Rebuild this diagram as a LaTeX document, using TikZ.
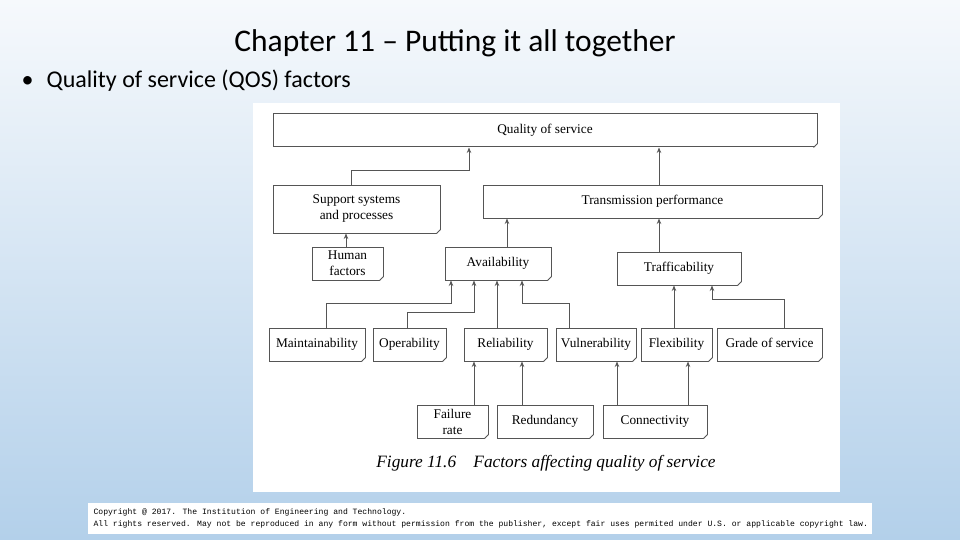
\documentclass[tikz,border=0pt]{standalone}
\usepackage{fontspec}
\setmainfont{Liberation Serif}
\newfontfamily\calib[Ligatures=TeX]{Carlito}
\newfontfamily\monof{Liberation Mono}
\usetikzlibrary{calc,arrows.meta}
\definecolor{bgtop}{HTML}{F6F9FC}
\definecolor{bgbot}{HTML}{B3D0EA}
\definecolor{edge}{HTML}{555555}
\tikzset{
  box/.style={draw=edge, line width=1pt, fill=white, inner sep=0pt, align=center,
    font=\fontsize{13.3}{16}\selectfont, minimum height=33pt},
  sl/.style={text height=9.5pt, text depth=3pt},
  conn/.style={draw=edge, line width=1pt, -{Stealth[length=5.5pt,width=4.5pt]}},
}
\newcommand{\dogear}[1]{%
  \fill[white] ($(#1.south east)+(-4,0.7)$) -- ($(#1.south east)+(0.7,0.7)$) -- ($(#1.south east)+(0.7,-4)$) -- cycle;
  \draw[edge, line width=0.9pt] ($(#1.south east)+(-4,0)$) -- ($(#1.south east)+(0,-4)$);}
\begin{document}
\begin{tikzpicture}[x=1pt,y=-1pt]
\useasboundingbox (0,0) rectangle (960,540);
\shade[top color=bgtop, bottom color=bgbot] (0,0) rectangle (960,540);
% title and bullet
\node[font=\calib\fontsize{31.5}{36}\selectfont] (title) at (455,43) {Chapter 11 – Putting it all together};
\node[font=\calib\fontsize{24}{28}\selectfont, anchor=west] (bullet) at (18,81) {\textbullet\hspace{0.55em}Quality of service (QOS) factors};
% figure panel
\fill[white] (253,103) rectangle (840,492);
% copyright
\fill[white] (88,503) rectangle (872,534);
\node[font=\monof\fontsize{8.1}{12}\selectfont, anchor=west, align=left] (copy) at (90,518)
  {Copyright @ 2017. The Institution of Engineering and Technology.\\All rights reserved. May not be reproduced in any form without permission from the publisher, except fair uses permited under U.S. or applicable copyright law.};
% boxes
\node[box, sl, minimum width=544pt] (qos) at (545,130.5) {Quality of service};
\node[box, minimum width=167pt, minimum height=48pt] (sup) at (356.5,209) {Support systems\\and processes};
\node[box, sl, minimum width=339pt] (tp) at (652.5,201.5) {Transmission performance};
\node[box, minimum width=71pt] (hum) at (347.5,263.5) {Human\\factors};
\node[box, sl, minimum width=106pt] (av) at (498,263.5) {Availability};
\node[box, sl, minimum width=124pt] (tr) at (679,268.5) {Trafficability};
\node[box, sl, minimum width=96pt] (mt) at (317,344.5) {Maintainability};
\node[box, sl, minimum width=73pt] (op) at (409.5,344.5) {Operability};
\node[box, sl, minimum width=83pt] (rel) at (505.5,344.5) {Reliability};
\node[box, sl, minimum width=80pt] (vul) at (596,344.5) {Vulnerability};
\node[box, sl, minimum width=71pt] (flex) at (676.5,344.5) {Flexibility};
\node[box, sl, minimum width=105pt] (gos) at (769.5,344.5) {Grade of service};
\node[box, minimum width=71pt] (fr) at (452.5,421.5) {Failure\\rate};
\node[box, sl, minimum width=96pt] (red) at (545,421.5) {Redundancy};
\node[box, sl, minimum width=104pt] (con) at (655,421.5) {Connectivity};
\foreach \n in {qos,sup,tp,hum,av,tr,mt,op,rel,vul,flex,gos,fr,red,con} {\dogear{\n}}
% caption
\node[font=\itshape\fontsize{17.3}{20}\selectfont] (cap) at (546,463) {Figure 11.6\hspace{1em}Factors affecting quality of service};
% connectors
\draw[conn] ([xshift=-5.5]sup.north) -- ++(0,-14) -| ([xshift=-76]qos.south);
\draw[conn] ([xshift=6.5]tp.north) -- ([xshift=114]qos.south);
\draw[conn] ([xshift=-1.5]hum.north) -- ([xshift=-10.5]sup.south);
\draw[conn] ([xshift=9]av.north) -- ([xshift=-145.5]tp.south);
\draw[conn] ([xshift=-20]tr.north) -- ([xshift=6.5]tp.south);
\draw[conn] ([xshift=9]mt.north) -- ++(0,-24) -| ([xshift=-47]av.south);
\draw[conn] ([xshift=-2.5]op.north) -- ++(0,-15) -| ([xshift=-24]av.south);
\draw[conn] ([xshift=-8.5]rel.north) -- ([xshift=-1]av.south);
\draw[conn] ([xshift=-27]vul.north) -- ++(0,-24) -| ([xshift=24]av.south);
\draw[conn] ([xshift=-2.5]flex.north) -- ([xshift=-5]tr.south);
\draw[conn] ([xshift=14.5]gos.north) -- ++(0,-28) -| ([xshift=33]tr.south);
\draw[conn] ([xshift=21.5]fr.north) -- ([xshift=-31.5]rel.south);
\draw[conn] ([xshift=-23]red.north) -- ([xshift=16.5]rel.south);
\draw[conn] ([xshift=-38]con.north) -- ([xshift=21]vul.south);
\draw[conn] ([xshift=33]con.north) -- ([xshift=11.5]flex.south);
\end{tikzpicture}
\end{document}
